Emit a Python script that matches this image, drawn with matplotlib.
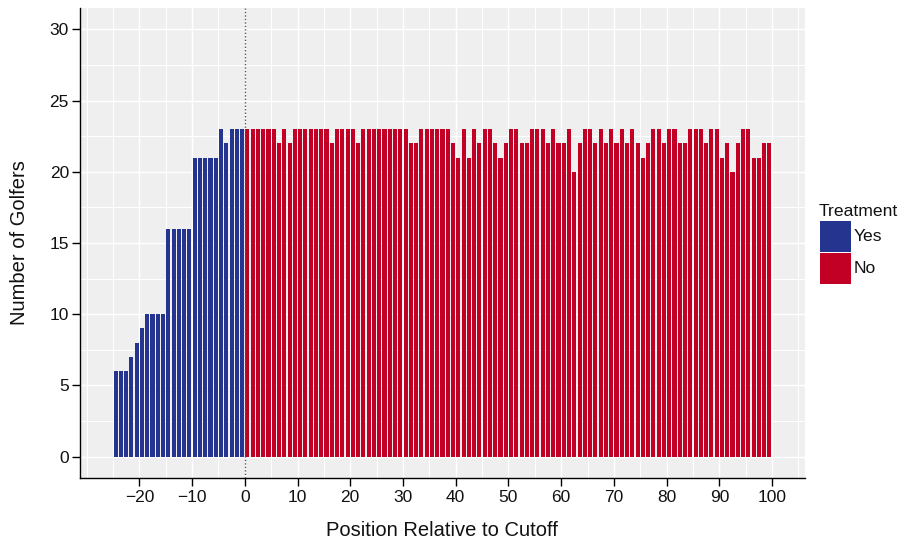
import matplotlib
matplotlib.use("Agg")
import matplotlib.pyplot as plt
from matplotlib.patches import Rectangle
from matplotlib.ticker import MultipleLocator
import numpy as np

plt.rcParams['font.family'] = ['Liberation Sans', 'DejaVu Sans']

# Data
treated_pos = list(range(-25, 0))
treated_counts = [6, 6, 6, 7, 8, 9, 10, 10, 10, 10, 16, 16, 16, 16, 16,
                  21, 21, 21, 21, 21, 23, 22, 23, 23, 23]
control_pos = list(range(0, 100))
control_counts = [23, 23, 23, 23, 23, 23, 22, 23, 22, 23,
                  23, 23, 23, 23, 23, 23, 22, 23, 23, 23,
                  23, 22, 23, 23, 23, 23, 23, 23, 23, 23,
                  23, 22, 22, 23, 23, 23, 23, 23, 23, 22,
                  21, 23, 21, 23, 22, 23, 23, 22, 21, 22,
                  23, 23, 22, 22, 23, 23, 23, 22, 23, 22,
                  22, 23, 20, 22, 23, 23, 22, 23, 22, 23,
                  22, 23, 22, 23, 22, 21, 22, 23, 23, 22,
                  23, 23, 22, 22, 23, 23, 23, 22, 23, 23,
                  21, 22, 20, 22, 23, 23, 21, 21, 22, 22]
x_ticks = [-20, -10, 0, 10, 20, 30, 40, 50, 60, 70, 80, 90, 100]
y_ticks = [0, 5, 10, 15, 20, 25, 30]
legend_title = "Treatment"
legend_labels = ["Yes", "No"]

blue = "#24348F"
red = "#C20026"
colors = [blue, red]
txt = "#111111"

W, H = 904, 546
fig = plt.figure(figsize=(W / 100, H / 100), dpi=100)
ax = fig.add_axes([80 / W, (H - 478) / H, (805 - 80) / W, (478 - 8) / H])
ax.set_facecolor("#EFEFEF")

ax.bar(np.array(treated_pos) + 0.5, treated_counts, width=0.78, color=blue, zorder=3)
ax.bar(np.array(control_pos) + 0.5, control_counts, width=0.78, color=red, zorder=3)
ax.axvline(0, color="#555555", linestyle=(0, (1, 1.5)), linewidth=1.0, zorder=4)

ax.set_xlim(-31.25, 106.25)
ax.set_ylim(-1.5, 31.5)
ax.set_xticks(x_ticks)
ax.set_xticklabels([str(t).replace("-", "\u2212") for t in x_ticks])
ax.set_yticks(y_ticks)
ax.xaxis.set_minor_locator(MultipleLocator(5))
ax.yaxis.set_minor_locator(MultipleLocator(2.5))
ax.grid(which="major", color="white", linewidth=1.0, zorder=0)
ax.grid(which="minor", color="white", linewidth=0.8, zorder=0)
ax.set_axisbelow(True)

for s in ["top", "right"]:
    ax.spines[s].set_visible(False)
for s in ["left", "bottom"]:
    ax.spines[s].set_color("black")
    ax.spines[s].set_linewidth(1.0)

ax.tick_params(which="major", direction="out", length=6, width=1.0, color="black",
               labelsize=12.5, labelcolor=txt)
ax.tick_params(which="minor", length=0)
ax.tick_params(axis="x", pad=2.5)
ax.tick_params(axis="y", pad=2)

fig.text(442 / W, 1 - 531 / H, "Position Relative to Cutoff", ha="center", va="center",
         fontsize=14.5, color=txt)
fig.text(20 / W, 1 - 243 / H, "Number of Golfers", ha="center", va="center",
         rotation=90, fontsize=14.5, color=txt)

# Legend
fig.text(819 / W, 1 - 216 / H, legend_title, ha="left", va="baseline",
         fontsize=12.6, color=txt)
key_top = 221
key_size = 31.5
for i, (lab, col) in enumerate(zip(legend_labels, colors)):
    top = key_top + i * key_size
    fig.patches.append(Rectangle((820 / W, 1 - (top + key_size - 0.5) / H),
                                 (key_size - 0.5) / W, (key_size - 0.5) / H,
                                 transform=fig.transFigure, facecolor=col,
                                 edgecolor="none"))
    fig.text(854 / W, 1 - (top + key_size / 2) / H, lab, ha="left", va="center",
             fontsize=12.6, color=txt)

fig.savefig("out.png", dpi=100)
